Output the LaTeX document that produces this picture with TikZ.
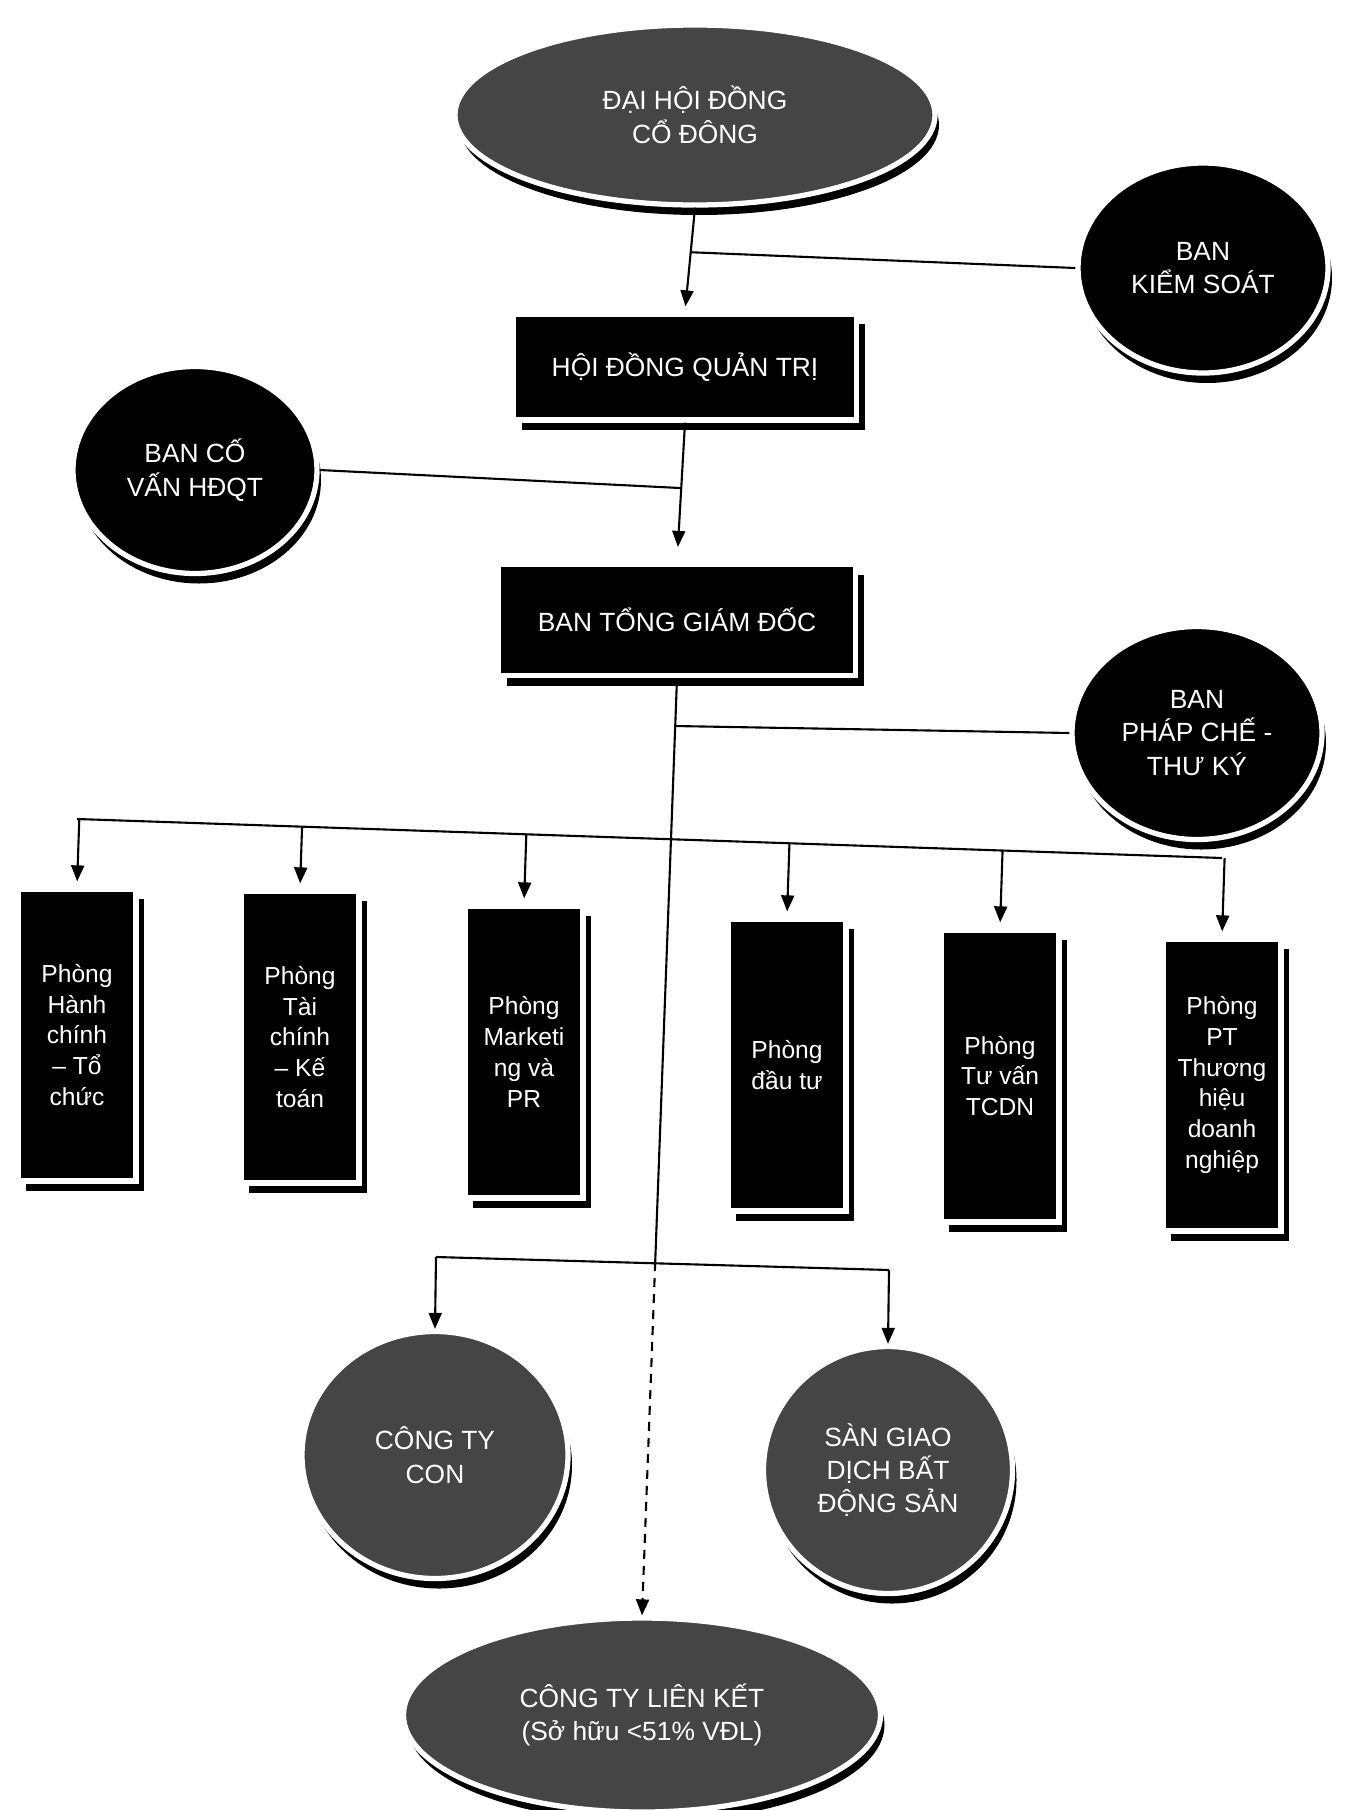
\documentclass[tikz,border=0pt]{standalone}
\usepackage{fontspec}
\setmainfont{Liberation Sans}
\usepackage{tikz}
\usetikzlibrary{arrows.meta,calc,shapes.geometric,shadows}
\definecolor{ovalgrey}{gray}{0.27}

\begin{document}
\begin{tikzpicture}[
  font=\fontsize{15}{19}\selectfont,
  boxshadow/.style={drop shadow={shadow xshift=0.16cm,shadow yshift=-0.2cm,fill=black,opacity=1}},
  ovalshadow/.style={drop shadow={shadow xshift=0.08cm,shadow yshift=-0.2cm,fill=black,opacity=1}},
  topbox/.style={rectangle,fill=black,draw=white,line width=3pt,text=white,boxshadow},
  dept/.style={rectangle,fill=black,draw=white,line width=3pt,text=white,align=center,
    minimum width=2.36cm,minimum height=5.84cm,inner sep=1pt,font=\fontsize{14}{17.5}\selectfont,boxshadow},
  blackoval/.style={ellipse,fill=black,draw=white,line width=3pt,text=white,align=center,inner sep=0pt,ovalshadow},
  greyoval/.style={blackoval,fill=ovalgrey},
  link/.style={line width=1.2pt},
  arrowlink/.style={link,-{Triangle[length=0.32cm,width=0.26cm]}},
]
\useasboundingbox (0,0) rectangle (26.92,-36.2);

\node[greyoval,minimum width=9.6cm,minimum height=3.6cm] (dhcd) at (13.9,-2.3) {ĐẠI HỘI ĐỒNG\\CỔ ĐÔNG};
\node[blackoval,minimum width=5cm,minimum height=4.2cm] (bks) at (24.06,-5.36) {BAN\\KIỂM SOÁT};
\node[topbox,minimum width=6.86cm,minimum height=2.12cm] (hdqt) at (13.7,-7.34) {HỘI ĐỒNG QUẢN TRỊ};
\node[blackoval,minimum width=4.88cm,minimum height=4.14cm] (bcv) at (3.9,-9.4) {BAN CỐ\\VẤN HĐQT};
\node[topbox,minimum width=7.14cm,minimum height=2.22cm] (btgd) at (13.54,-12.4) {BAN TỔNG GIÁM ĐỐC};
\node[blackoval,minimum width=5cm,minimum height=4.26cm] (bpc) at (23.94,-14.66) {BAN\\PHÁP CHẾ -\\THƯ KÝ};

\foreach \n/\x/\y/\t in {d1/1.54/-20.7/{Phòng\\Hành\\chính\\– Tổ\\chức},
                         d2/6.0/-20.74/{Phòng\\Tài\\chính\\– Kế\\toán},
                         d3/10.48/-21.04/{Phòng\\Marketi\\ng và\\PR},
                         d4/15.74/-21.3/{Phòng\\đầu tư},
                         d5/20.0/-21.52/{Phòng\\Tư vấn\\TCDN},
                         d6/24.44/-21.7/{Phòng\\PT\\Thương\\hiệu\\doanh\\nghiệp}}
  \node[dept] (\n) at (\x,\y) {\t};

\node[greyoval,minimum width=5.32cm,minimum height=4.94cm] (ctcon) at (8.7,-29.1) {CÔNG TY\\CON};
\node[greyoval,minimum width=4.98cm,minimum height=4.94cm] (sgd) at (17.76,-29.4) {SÀN GIAO\\DỊCH BẤT\\ĐỘNG SẢN};
\node[greyoval,minimum width=9.54cm,minimum height=3.88cm] (ctlk) at (12.84,-34.3) {CÔNG TY LIÊN KẾT\\(Sở hữu <51\% VĐL)};

\draw[arrowlink,shorten >=0.1cm] (dhcd.south) -- coordinate[pos=0.43] (kstap) (hdqt.north);
\draw[link] (kstap) -- (bks.west);
\draw[arrowlink,shorten >=0.3cm] (hdqt.south) -- coordinate[pos=0.47] (cvtap) (btgd.north);
\draw[link] (bcv.east) -- (cvtap);

\coordinate (split) at ($(btgd.south)!0.623!(ctlk.north)$);
\draw[link] (btgd.south) -- coordinate[pos=0.082] (pctap) (split);
\draw[link] (pctap) -- (bpc.west);
\draw[arrowlink,dash pattern=on 0.18cm off 0.14cm] (split) -- (ctlk.north);

\coordinate (busL) at (1.54,-16.38);
\coordinate (busR) at (24.44,-17.16);
\draw[link] (busL) -- (busR);
\foreach \n in {d1,d2,d3,d4,d5,d6}
  \draw[arrowlink,shorten >=0.1cm] ($(busL)!(\n.north)!(busR)$) -- (\n.north);

\coordinate (lowL) at (8.72,-25.14);
\coordinate (lowR) at (17.78,-25.4);
\draw[link] (lowL) -- (lowR);
\draw[arrowlink] (lowL) -- (ctcon.north);
\draw[arrowlink] (lowR) -- (sgd.north);
\end{tikzpicture}
\end{document}
